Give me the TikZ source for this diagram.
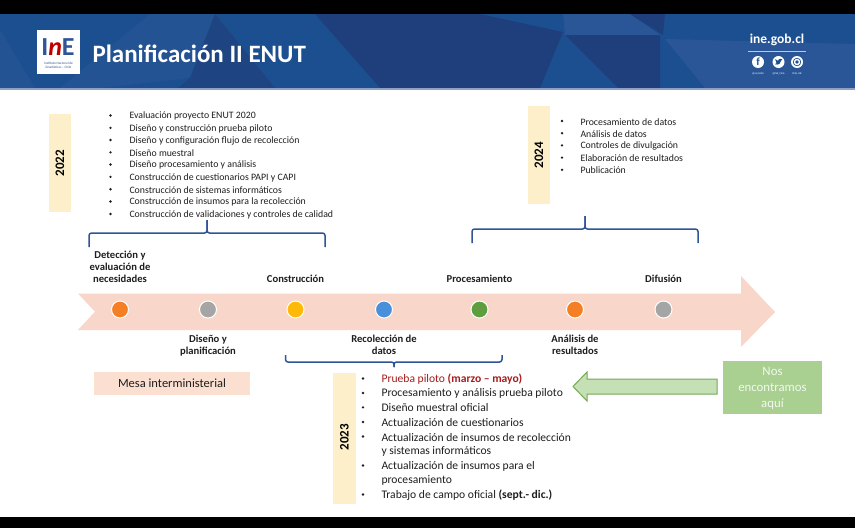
\documentclass[tikz,border=0pt]{standalone}
\usepackage{fontspec}
\setmainfont{Carlito}
\usetikzlibrary{positioning}
\definecolor{barblue}{HTML}{1C4F90}
\definecolor{bardark}{HTML}{1F3F7C}
\definecolor{barlight}{HTML}{2A5597}
\definecolor{braceblue}{HTML}{2F5597}
\definecolor{bandpink}{HTML}{F8D6C9}
\definecolor{yearcream}{HTML}{FCEFC9}
\definecolor{mesapink}{HTML}{FBE0D2}
\definecolor{herogreen}{HTML}{A9CF91}
\definecolor{arrowgreen}{HTML}{C6E0B5}
\definecolor{arrowedge}{HTML}{74A957}
\definecolor{pilotred}{HTML}{A61C1C}
\definecolor{inkgrey}{HTML}{1E1E1E}
\definecolor{dotorange}{HTML}{F47F25}
\definecolor{dotgrey}{HTML}{A5A5A5}
\definecolor{dotyellow}{HTML}{FFB90A}
\definecolor{dotblue}{HTML}{4A8FD9}
\definecolor{dotgreen}{HTML}{5E9E3E}
\tikzset{every path/.style={line width=1 pt}}
\tikzset{
  brace/.style={draw=braceblue,line width=1.5pt,rounded corners=2.5pt},
  yearbox/.style={inner sep=0pt,font=\fontsize{13}{13}\selectfont\bfseries,rotate=90},
  stage/.style={align=center,inner sep=0pt,font=\fontsize{10.6}{12.2}\selectfont\bfseries,text=inkgrey},
  dot/.style={circle,draw=white,line width=1pt,minimum size=17pt,inner sep=0pt},
  item/.style={anchor=west,inner sep=0pt,yshift=-.7pt,text=inkgrey,font=\fontsize{9.8}{9.8}\selectfont},
  biitem/.style={anchor=west,inner sep=0pt,yshift=-.7pt,text=inkgrey,font=\fontsize{11.6}{11.6}\selectfont},
  social/.style={circle,fill=white,inner sep=0pt,minimum size=12pt,text=barblue,font=\fontsize{11}{11}\selectfont\bfseries},
  tinylabel/.style={inner sep=0pt,text=white,font=\fontsize{2.6}{2.6}\selectfont},
}
\newcommand{\bul}[2]{\fill[inkgrey] (#1,#2) circle[radius=1.3];}
\begin{document}
\begin{tikzpicture}[x=1pt,y=-1pt]
\useasboundingbox (0,0) rectangle (855,528);
\fill[white] (0,0) rectangle (855,528);
% header
\fill[black] (0,0) rectangle (855,14);
\fill[black] (0,517) rectangle (855,528);
\fill[barblue] (0,14) rectangle (855,88);
\fill[barlight!60!barblue] (0,30) -- (35,88) -- (0,88) -- cycle;
\fill[barlight!60!barblue] (150,14) -- (215,14) -- (190,78) -- (100,88) -- (60,88) -- cycle;
\fill[bardark!70!barblue] (190,78) -- (178,88) -- (275,88) -- (215,14) -- cycle;
\fill[bardark] (315,14) -- (480,14) -- (563,32) -- (540,88) -- (380,88) -- cycle;
\fill[bardark] (565,35) -- (660,35) -- (660,88) -- (618,88) -- cycle;
\fill[barlight] (563,14) -- (630,14) -- (660,35) -- (565,35) -- cycle;
\fill[bardark] (630,14) -- (665,14) -- (663,35) -- cycle;
\fill[barlight] (665,39) -- (855,44) -- (855,88) -- (705,88) -- cycle;
\fill[braceblue!55!white] (0,88) rectangle (855,90);
% logo
\node[fill=white,minimum width=43pt,minimum height=44pt,inner sep=0pt] (logo) at (58.5,52) {};
\node[inner sep=0pt,font=\fontsize{26}{26}\selectfont\bfseries] (logoword) at (58,47.5) {\textcolor{braceblue}{I}\textcolor{red!75!black}{\itshape n}\textcolor{braceblue}{E}};
\node[inner sep=0pt,align=center,text=braceblue,font=\fontsize{3.4}{3.6}\selectfont] (logotext) at (58.5,65.5) {Instituto Nacional de\\Estadísticas -- Chile};
\node[anchor=west,inner sep=0pt,text=white,font=\fontsize{25}{25}\selectfont\bfseries] (title) at (92,54) {Planificación II ENUT};
\node[inner sep=0pt,text=white,font=\fontsize{13.5}{13.5}\selectfont\bfseries] (site) at (777,40) {ine.gob.cl};
\draw[white!70!barblue,line width=.7pt] (748,51) -- (806,51);
\node[social] (fb) at (758,62) {f};
\node[social] (tw) at (778.5,62) {};
\node[social] (ig) at (797,62) {};
\fill[barblue] ([shift={(-3.6,2.2)}]tw.center) .. controls ([shift={(0,3.6)}]tw.center) and ([shift={(2.8,1)}]tw.center) .. ([shift={(2.9,-1.7)}]tw.center) -- ([shift={(3.8,-2.8)}]tw.center) -- ([shift={(1.4,-3.2)}]tw.center) .. controls ([shift={(-.2,-3)}]tw.center) and ([shift={(-.4,-1.6)}]tw.center) .. ([shift={(-.2,-1.1)}]tw.center) -- ([shift={(-3.4,-2.8)}]tw.center) -- ([shift={(-2.4,-.2)}]tw.center) -- ([shift={(-2,1.2)}]tw.center) -- cycle;
\draw[barblue,line width=.7pt] (ig) circle[radius=3.8];
\fill[barblue] (ig) circle[radius=1.8];
\node[tinylabel] (fbtxt) at (758,73.5) {@ineCHILE};
\node[tinylabel] (twtxt) at (778.5,73.5) {@INE\_Chile};
\node[tinylabel] (igtxt) at (797,73.5) {Chile INE};
% year 2022
\fill[yearcream] (49,114) rectangle (71,212);
\node[yearbox] (y2022) at (60,163) {2022};
\node[item] (a1) at (129,115.5) {Evaluación proyecto ENUT 2020};
\node[item] (a2) at (129,127.8) {Diseño y construcción prueba piloto};
\node[item] (a3) at (129,140) {Diseño y configuración flujo de recolección};
\node[item] (a4) at (129,152.3) {Diseño muestral};
\node[item] (a5) at (129,164.5) {Diseño procesamiento y análisis};
\node[item] (a6) at (129,176.8) {Construcción de cuestionarios PAPI y CAPI};
\node[item] (a7) at (129,189.2) {Construcción de sistemas informáticos};
\node[item] (a8) at (129,201.5) {Construcción de insumos para la recolección};
\node[item] (a9) at (129,214) {Construcción de validaciones y controles de calidad};
\bul{110.5}{115.5} \bul{110.5}{127.8} \bul{110.5}{140} \bul{110.5}{152.3} \bul{110.5}{164.5}
\bul{110.5}{176.8} \bul{110.5}{189.2} \bul{110.5}{201.5} \bul{110.5}{214}
\draw[brace] (89,247) -- (89,233) -- (207,233) -- (207,220);
\draw[brace] (207,220) -- (207,233) -- (325,233) -- (325,247);
% year 2024
\fill[yearcream] (528,106) rectangle (550,204);
\node[yearbox] (y2024) at (539,155) {2024};
\node[item] (b1) at (580,121) {Procesamiento de datos};
\node[item] (b2) at (580,133.2) {Análisis de datos};
\node[item] (b3) at (580,145.4) {Controles de divulgación};
\node[item] (b4) at (580,157.6) {Elaboración de resultados};
\node[item] (b5) at (580,169.8) {Publicación};
\bul{562}{121} \bul{562}{133.2} \bul{562}{145.4} \bul{562}{157.6} \bul{562}{169.8}
\draw[brace] (472,243) -- (472,229) -- (585,229) -- (585,216);
\draw[brace] (585,216) -- (585,229) -- (698,229) -- (698,243);
% timeline
\fill[bandpink] (78,293.5) -- (741,293.5) -- (741,276) -- (775,312) -- (741,347) -- (741,330) -- (78,330) -- (95,311.7) -- cycle;
\node[dot,fill=dotorange] (d1) at (120,309.5) {};
\node[dot,fill=dotgrey] (d2) at (208,309.5) {};
\node[dot,fill=dotyellow] (d3) at (295.5,309.5) {};
\node[dot,fill=dotblue] (d4) at (384,309.5) {};
\node[dot,fill=dotgreen] (d5) at (479.5,309.5) {};
\node[dot,fill=dotorange] (d6) at (575,309.5) {};
\node[dot,fill=dotgrey] (d7) at (663.5,309.5) {};
\node[stage,above=17pt of d1] (s1) {Detección y\\evaluación de\\necesidades};
\node[stage,above=17pt of d3] (s3) {Construcción};
\node[stage,above=17pt of d5] (s5) {Procesamiento};
\node[stage,above=17pt of d7] (s7) {Difusión};
\node[stage,below=16pt of d2] (s2) {Diseño y\\planificación};
\node[stage,below=16pt of d4] (s4) {Recolección de\\datos};
\node[stage,below=16pt of d6] (s6) {Análisis de\\resultados};
% mesa
\node[fill=mesapink,minimum width=156pt,minimum height=23pt,inner sep=0pt,text=inkgrey,font=\fontsize{12.5}{12.5}\selectfont] (mesa) at (172,383.5) {Mesa interministerial};
% year 2023
\draw[brace] (285.5,355) -- (285.5,362) -- (394,362) -- (394,367);
\draw[brace] (394,367) -- (394,362) -- (502,362) -- (502,355);
\fill[yearcream] (333,373) rectangle (356,504);
\node[yearbox] (y2023) at (344.5,437) {2023};
\node[biitem,text=pilotred] (c1) at (381,378.5) {Prueba piloto \textbf{(marzo -- mayo)}};
\node[biitem] (c2) at (381,393) {Procesamiento y análisis prueba piloto};
\node[biitem] (c3) at (381,407.3) {Diseño muestral oficial};
\node[biitem] (c4) at (381,422) {Actualización de cuestionarios};
\node[biitem] (c5) at (381,436.5) {Actualización de insumos de recolección};
\node[biitem] (c5b) at (381,450.8) {y sistemas informáticos};
\node[biitem] (c6) at (381,465.5) {Actualización de insumos para el};
\node[biitem] (c6b) at (381,480) {procesamiento};
\node[biitem] (c7) at (381,494.5) {Trabajo de campo oficial \textbf{(sept.- dic.)}};
\bul{363}{378.5} \bul{363}{393} \bul{363}{407.3} \bul{363}{422} \bul{363}{436.5} \bul{363}{465.5} \bul{363}{494.5}
% here
\node[fill=herogreen,minimum width=99pt,minimum height=53pt,inner sep=0pt] (here) at (772.5,387.5) {};
\node[inner sep=0pt,align=center,text=white!85!herogreen,font=\fontsize{12.8}{16}\selectfont] (heretext) at (772.5,388.5) {Nos\\encontramos\\aquí};
\filldraw[fill=arrowgreen,draw=arrowedge] (717,379) -- (587,379) -- (587,372) -- (573,386.5) -- (587,401) -- (587,394) -- (717,394) -- cycle;
\end{tikzpicture}
\end{document}
